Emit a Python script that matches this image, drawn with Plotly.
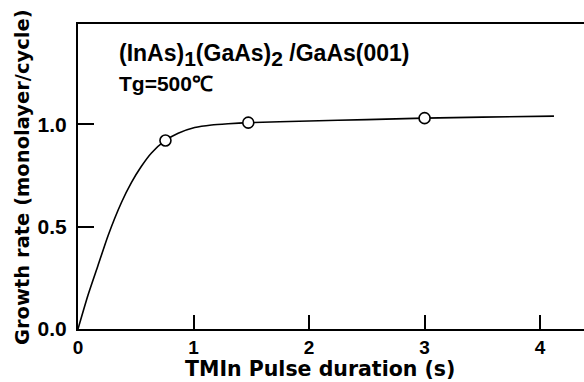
import plotly.graph_objects as go

# Measured points
pulse_s = [0.757, 1.474, 3.0]
growth_rate = [0.921, 1.008, 1.03]

# Fitted curve
curve_x = [0, 0.087, 0.173, 0.26, 0.376, 0.462, 0.549, 0.636, 0.757, 0.867, 1.01,
           1.156, 1.3, 1.474, 2.0, 2.5, 3.0, 3.5, 4.12]
curve_y = [0, 0.166, 0.31, 0.456, 0.618, 0.715, 0.795, 0.86, 0.921, 0.956, 0.984,
           0.997, 1.003, 1.008, 1.016, 1.023, 1.03, 1.035, 1.04]

x_ticks = [0, 1, 2, 3, 4]
y_ticks = [0.0, 0.5, 1.0]
y_tick_text = ["0.0", "0.5", "1.0"]

FONT = "Liberation Sans, Arial, sans-serif"
TFONT = "DejaVu Sans, Liberation Sans, sans-serif"
W, H = 584, 382
ML, MR, MT, MB = 78, 0, 24, 53

fig = go.Figure()
fig.add_trace(go.Scatter(x=curve_x, y=curve_y, mode="lines",
                         line=dict(color="black", width=1.6, shape="spline", smoothing=0.6),
                         showlegend=False, hoverinfo="skip"))
fig.add_trace(go.Scatter(x=pulse_s, y=growth_rate, mode="markers",
                         marker=dict(symbol="circle", size=11, color="white",
                                     line=dict(color="black", width=1.6)),
                         showlegend=False))

pw, ph = W - ML - MR, H - MT - MB


def px2paper(px, py):
    return (px - ML) / pw, (H - MB - py) / ph


def ann(text, px, py, size, xanchor="left", angle=0, family=FONT):
    x, y = px2paper(px, py)
    return dict(text=text, x=x, y=y, xref="paper", yref="paper", showarrow=False,
                xanchor=xanchor, yanchor="middle", textangle=angle,
                font=dict(size=size, family=family, weight="bold", color="black"))


SUB = "<sub><span style='font-size:21px'>%s</span></sub>"

fig.update_layout(
    width=W, height=H,
    margin=dict(l=ML, r=MR, t=MT, b=MB),
    plot_bgcolor="white", paper_bgcolor="white",
    font=dict(family=FONT, color="black"),
    xaxis=dict(range=[0, 4.38], tickvals=x_ticks, ticks="inside", ticklen=14, tickwidth=1.5,
               tickcolor="black", showline=True, linecolor="black", linewidth=2, mirror=True,
               showgrid=False, zeroline=False,
               tickfont=dict(size=19, family=FONT, weight="bold", color="black")),
    yaxis=dict(range=[0, 1.49], tickvals=y_ticks, ticktext=y_tick_text, ticks="inside",
               ticklen=16, tickwidth=1.5, tickcolor="black", showline=True, linecolor="black",
               linewidth=2, showgrid=False, zeroline=False, ticklabelstandoff=5,
               tickfont=dict(size=21, family=FONT, weight="bold", color="black")),
    annotations=[
        ann("(InAs)" + SUB % "1" + "(GaAs)" + SUB % "2" + " /GaAs(001)", 117, 55, 23),
        ann("Tg=500℃", 117, 83, 21),
        ann("TMIn Pulse duration (s)", 320, 369, 20.5, xanchor="center", family=TFONT),
        ann("Growth rate (monolayer/cycle)", 22, 177, 19.5, xanchor="center", angle=-90,
            family=TFONT),
    ],
)

fig.write_html("out.html", config={"displayModeBar": False},
               post_script="document.body.style.margin='0';document.body.style.overflow='hidden';")
